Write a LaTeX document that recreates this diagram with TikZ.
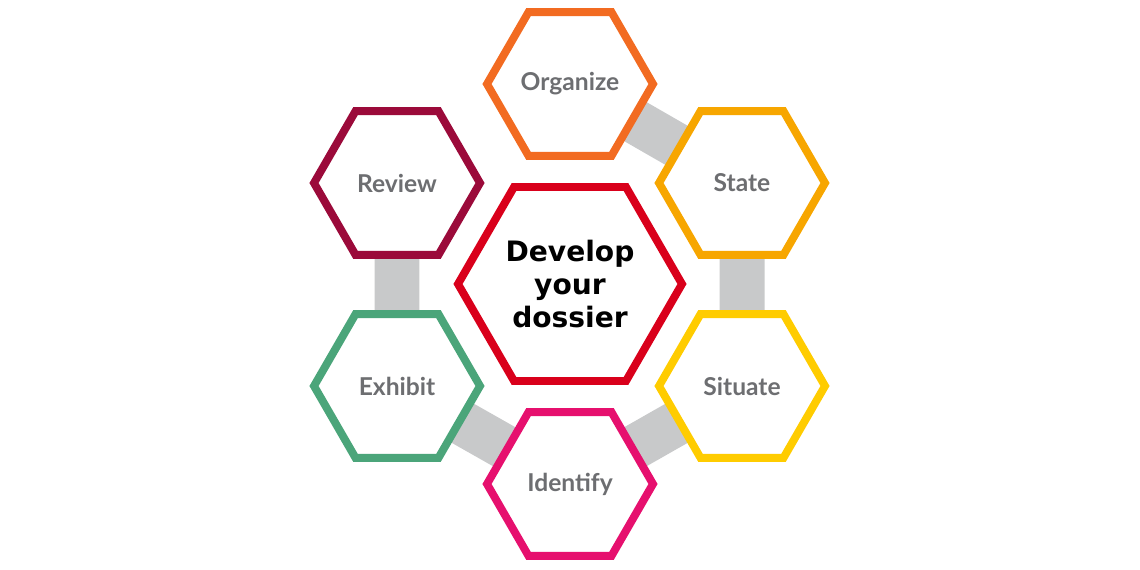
\documentclass[tikz,border=0pt]{standalone}
\usepackage{fontspec}
\setmainfont{Lato}
\usetikzlibrary{shapes.geometric}
\definecolor{txtgray}{HTML}{6D6E71}
\definecolor{bandgray}{HTML}{C8C9CA}
\definecolor{corange}{HTML}{F26B21}
\definecolor{cstate}{HTML}{F7A600}
\definecolor{csituate}{HTML}{FFCC00}
\definecolor{cpink}{HTML}{E6106E}
\definecolor{cgreen}{HTML}{4BA57A}
\definecolor{creview}{HTML}{9B0A3A}
\definecolor{cred}{HTML}{D9001B}
\tikzset{
  hexa/.style={regular polygon, regular polygon sides=6, minimum size=3.32cm,
    inner sep=0pt, line width=4.5pt, fill=white, draw=#1,
    text=txtgray, font=\bfseries\fontsize{14}{16}\selectfont},
  band/.style={bandgray, line width=0.9cm}
}
\begin{document}
\begin{tikzpicture}[x=0.02cm, y=-0.02cm]
    \useasboundingbox (0,0) rectangle (1140,570);
    % bands behind
    \coordinate (borg) at (570,84);
    \coordinate (bsta) at (742,183);
    \coordinate (bsit) at (742,386);
    \coordinate (bide) at (570,484);
    \coordinate (bexh) at (397,386);
    \coordinate (brev) at (397,183);
    \draw[band] (borg) -- (bsta) -- (bsit) -- (bide) -- (bexh) -- (brev);
    % hexagons
    \node[hexa=corange] (organize) at (borg) {Organize};
    \node[hexa=cstate] (state) at (bsta) {State};
    \node[hexa=csituate] (situate) at (bsit) {Situate};
    \node[hexa=cpink] (identify) at (bide) {Identify};
    \node[hexa=cgreen] (exhibit) at (bexh) {Exhibit};
    \node[hexa=creview] (review) at (brev) {Review};
    \node[hexa=cred, minimum size=4.48cm, text=black, align=center,
      font=\fontspec{DejaVu Sans}\bfseries\fontsize{16}{19}\selectfont] (dossier) at (570,284) {Develop\\your\\dossier};
\end{tikzpicture}
\end{document}
